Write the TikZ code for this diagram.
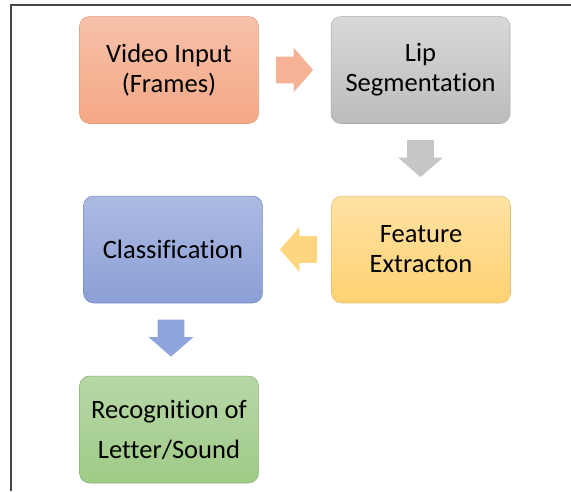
\documentclass[tikz,border=0pt]{standalone}
\usepackage{fontspec}
\setmainfont{Carlito}[Ligatures=NoCommon]
\usetikzlibrary{shapes.arrows,calc}

\definecolor{framegray}{RGB}{70,70,70}
\definecolor{vidtop}{RGB}{247,193,170}
\definecolor{vidbot}{RGB}{244,167,133}
\definecolor{vidline}{RGB}{225,155,125}
\definecolor{liptop}{RGB}{216,216,216}
\definecolor{lipbot}{RGB}{188,188,188}
\definecolor{lipline}{RGB}{170,170,170}
\definecolor{featop}{RGB}{255,226,163}
\definecolor{feabot}{RGB}{255,210,115}
\definecolor{fealine}{RGB}{220,190,125}
\definecolor{clstop}{RGB}{172,186,226}
\definecolor{clsbot}{RGB}{140,160,215}
\definecolor{clsline}{RGB}{115,135,195}
\definecolor{rectop}{RGB}{183,215,167}
\definecolor{recbot}{RGB}{159,203,135}
\definecolor{recline}{RGB}{135,175,115}
\definecolor{arrowor}{RGB}{246,178,150}
\definecolor{arrowgr}{RGB}{198,198,198}
\definecolor{arrowye}{RGB}{255,214,128}
\definecolor{arrowbl}{RGB}{143,164,220}

\begin{document}
\begin{tikzpicture}[x=0.02cm,y=-0.02cm,
  stage/.style={draw, rounded corners=2mm, line width=0.3pt,
    minimum width=35.8mm, minimum height=21.4mm, align=center,
    font=\fontsize{15.1}{17}\selectfont},
  blockarrow/.style={single arrow, inner xsep=0pt, inner ysep=2.6mm,
    minimum width=8.8mm, minimum height=7.4mm, single arrow head extend=1.8mm,
    single arrow tip angle=98, single arrow head indent=0pt, anchor=tail}]

\useasboundingbox (0,0) rectangle (571,491);
\draw[framegray, line width=0.35mm] (571,5) -- (11,5) -- (11,491);

\node[stage, draw=vidline, top color=vidtop, bottom color=vidbot] (vid) at (169,70) {Video Input\\(Frames)};
\node[stage, draw=lipline, top color=liptop, bottom color=lipbot] (lip) at (420.5,70) {Lip\\Segmentation};
\node[stage, draw=fealine, top color=featop, bottom color=feabot] (fea) at (421,249.5) {Feature\\Extracton};
\node[stage, draw=clsline, top color=clstop, bottom color=clsbot] (cls) at (173,249.5) {Classification};
\node[stage, draw=recline, top color=rectop, bottom color=recbot,
      font=\fontsize{15.1}{22.8}\selectfont] (rec) at (169,429.5) {Recognition of\\Letter/Sound};

\node[blockarrow, fill=arrowor] (a1) at ($(vid.east)+(17,0)$) {};
\node[blockarrow, fill=arrowgr, rotate=-90] (a2) at ($(lip.south)+(0,16)$) {};
\node[blockarrow, fill=arrowye, rotate=180] (a3) at ($(fea.west)+(-14,0)$) {};
\node[blockarrow, fill=arrowbl, rotate=-90] (a4) at ($(cls.south)+(-2,16)$) {};

\end{tikzpicture}
\end{document}
